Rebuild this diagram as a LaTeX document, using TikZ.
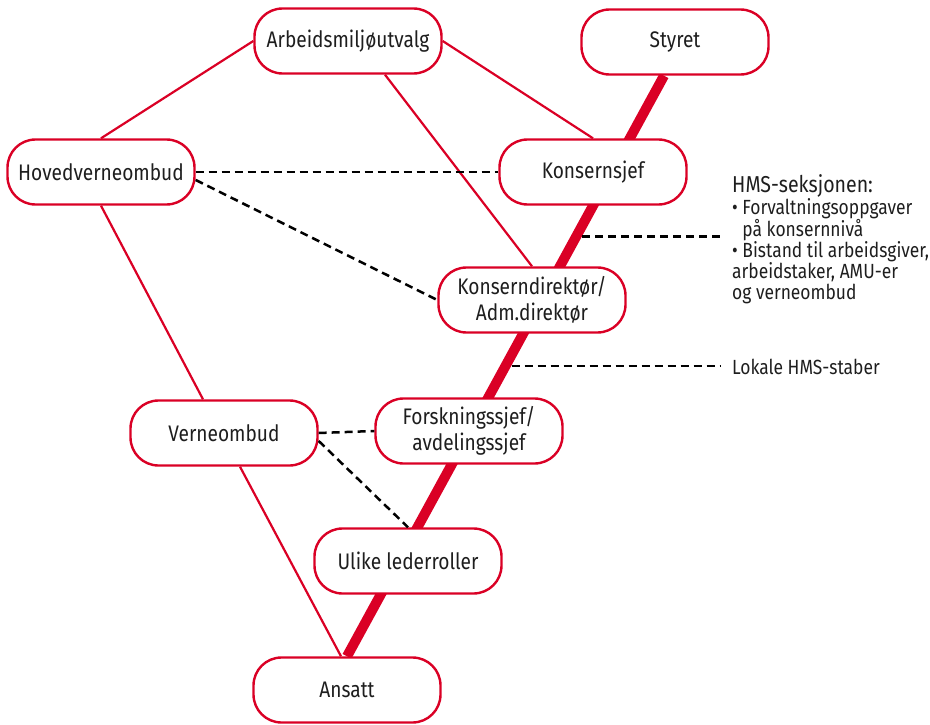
\documentclass[tikz,border=0pt]{standalone}
\usepackage{fontspec}
\setmainfont{Fira Sans}[FakeStretch=0.85]
\usepackage{tikz}
\usetikzlibrary{positioning, calc, backgrounds}
\definecolor{hmsred}{RGB}{218, 0, 37}
\definecolor{textdark}{RGB}{30, 30, 30}

\begin{document}
\begin{tikzpicture}[x=1pt, y=-1pt,
    role/.style={rectangle, draw=hmsred, line width=2.4pt, fill=white, rounded corners=28pt, minimum width=187pt, minimum height=65pt, align=center, text=textdark, font=\fontsize{22.5}{26}\selectfont},
    side/.style={anchor=west, inner xsep=11pt, inner ysep=0pt, align=left, text=textdark, font=\fontsize{20.5}{21}\selectfont},
    link/.style={draw=hmsred, line width=2.2pt},
    spine/.style={draw=hmsred, line width=10pt},
    advice/.style={draw=black, line width=2.5pt, dash pattern=on 8pt off 5pt}]
    \useasboundingbox (0,0) rectangle (930,725);

    % roles
    \node [role] (amu) at (348,41) {Arbeidsmiljøutvalg};
    \node [role] (styret) at (675,42) {Styret};
    \node [role] (hvo) at (101,172) {Hovedverneombud};
    \node [role] (ks) at (593,172) {Konsernsjef};
    \node [role] (kd) at (532,300) {Konserndirektør/\\Adm.direktør};
    \node [role] (vo) at (224,433) {Verneombud};
    \node [role] (fs) at (469,431) {Forskningssjef/\\avdelingssjef};
    \node [role] (ulike) at (408,561) {Ulike lederroller};
    \node [role] (ansatt) at (347,690) {Ansatt};

    % side notes
    \node [side] (hms) at (721,239) {{\fontsize{23}{23}\selectfont HMS-seksjonen:}\\[1pt]
    \textbullet\ Forvaltningsoppgaver\\[-1pt]
    \phantom{\textbullet\ }på konsernnivå\\
    \textbullet\ Bistand til arbeidsgiver,\\
    arbeidstaker, AMU-er\\
    og verneombud};
    \node [side] (lokale) at (721,367) {Lokale HMS-staber};

    % line of command
    \coordinate (top) at ([xshift=-11pt]styret.south);
    \begin{scope}[on background layer]
        \path [spine] (top) -- (ansatt.north);
    \end{scope}
    \coordinate (hmsjoin) at ($(top)!0.277!(ansatt.north)$);
    \coordinate (lokjoin) at ($(top)!0.5!(ansatt.north)$);

    % safety organisation
    \path [link] (amu.west) -- (hvo.north);
    \path [link] (amu.east) -- (ks.north);
    \path [link] ([xshift=37pt]amu.south) -- (kd.north);
    \path [link] (hvo.south) -- ([xshift=-21pt]vo.north);
    \path [link] ([xshift=16pt]vo.south) -- ([xshift=-6pt]ansatt.north);

    % cooperation
    \path [advice] (hvo.east) -- (ks.west);
    \path [advice] ([yshift=-8pt]hvo.east) -- (kd.west);
    \path [advice] (vo.east) -- (fs.west);
    \path [advice] ([yshift=-8pt]vo.east) -- (ulike.north);
    \path [advice, shorten <=6pt] (hmsjoin) -- (hmsjoin -| hms.west);
    \path [advice, shorten <=6pt] (lokjoin) -- (lokjoin -| lokale.west);
\end{tikzpicture}
\end{document}
